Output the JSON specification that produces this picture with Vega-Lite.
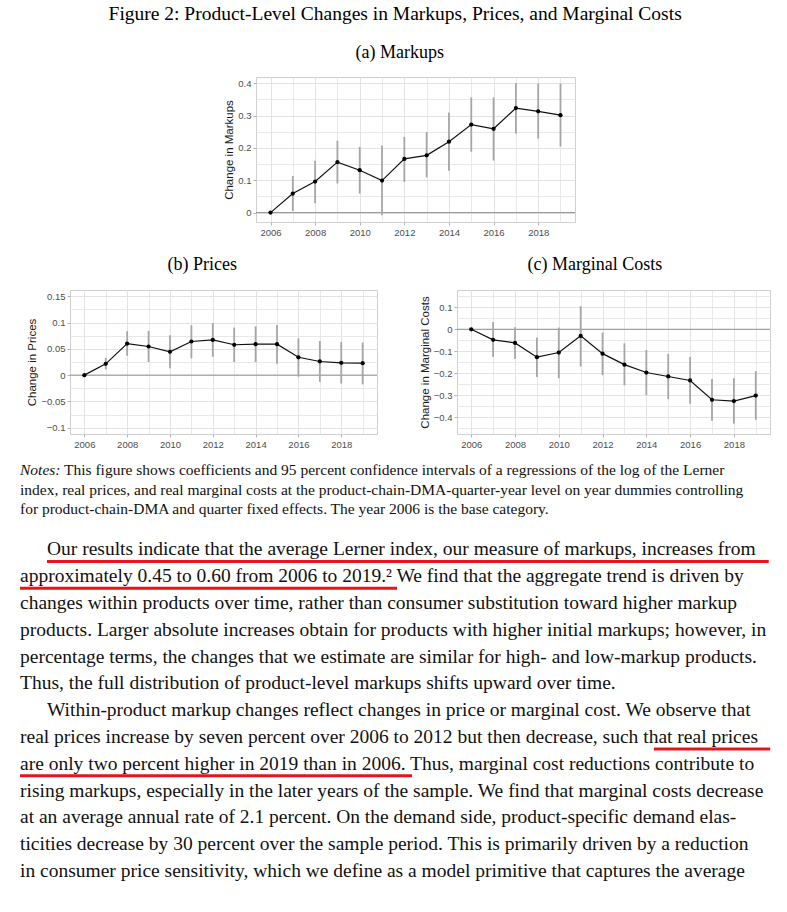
{
  "$schema": "https://vega.github.io/schema/vega-lite/v6.json",
  "background": "white",
  "padding": {"left": 18, "right": 18, "top": 4, "bottom": 0},
  "title": {"text": "Figure 2: Product-Level Changes in Markups, Prices, and Marginal Costs", "offset": 19, "fontSize": 19.5},
  "datasets": {
    "markups": [
      {"year": 2006, "est": 0, "lo": 0, "hi": 0},
      {"year": 2007, "est": 0.059, "lo": 0.005, "hi": 0.113},
      {"year": 2008, "est": 0.096, "lo": 0.029, "hi": 0.16},
      {"year": 2009, "est": 0.156, "lo": 0.09, "hi": 0.222},
      {"year": 2010, "est": 0.131, "lo": 0.059, "hi": 0.203},
      {"year": 2011, "est": 0.099, "lo": -0.008, "hi": 0.207},
      {"year": 2012, "est": 0.166, "lo": 0.095, "hi": 0.234},
      {"year": 2013, "est": 0.177, "lo": 0.109, "hi": 0.249},
      {"year": 2014, "est": 0.219, "lo": 0.129, "hi": 0.309},
      {"year": 2015, "est": 0.272, "lo": 0.188, "hi": 0.356},
      {"year": 2016, "est": 0.259, "lo": 0.161, "hi": 0.356},
      {"year": 2017, "est": 0.323, "lo": 0.244, "hi": 0.4},
      {"year": 2018, "est": 0.313, "lo": 0.229, "hi": 0.399},
      {"year": 2019, "est": 0.301, "lo": 0.204, "hi": 0.399}
    ],
    "prices": [
      {"year": 2006, "est": 0, "lo": 0, "hi": 0},
      {"year": 2007, "est": 0.0215, "lo": 0.011, "hi": 0.033},
      {"year": 2008, "est": 0.06, "lo": 0.037, "hi": 0.0835},
      {"year": 2009, "est": 0.0545, "lo": 0.025, "hi": 0.084},
      {"year": 2010, "est": 0.0445, "lo": 0.013, "hi": 0.076},
      {"year": 2011, "est": 0.064, "lo": 0.032, "hi": 0.095},
      {"year": 2012, "est": 0.067, "lo": 0.035, "hi": 0.099},
      {"year": 2013, "est": 0.0578, "lo": 0.025, "hi": 0.0905},
      {"year": 2014, "est": 0.059, "lo": 0.025, "hi": 0.093},
      {"year": 2015, "est": 0.059, "lo": 0.0215, "hi": 0.0956},
      {"year": 2016, "est": 0.034, "lo": -0.003, "hi": 0.07},
      {"year": 2017, "est": 0.026, "lo": -0.0127, "hi": 0.065},
      {"year": 2018, "est": 0.0234, "lo": -0.016, "hi": 0.063},
      {"year": 2019, "est": 0.0228, "lo": -0.0177, "hi": 0.062}
    ],
    "mc": [
      {"year": 2006, "est": 0, "lo": 0, "hi": 0},
      {"year": 2007, "est": -0.048, "lo": -0.126, "hi": 0.033},
      {"year": 2008, "est": -0.062, "lo": -0.135, "hi": 0.009},
      {"year": 2009, "est": -0.127, "lo": -0.217, "hi": -0.038},
      {"year": 2010, "est": -0.106, "lo": -0.223, "hi": 0.008},
      {"year": 2011, "est": -0.03, "lo": -0.17, "hi": 0.105},
      {"year": 2012, "est": -0.111, "lo": -0.209, "hi": -0.015},
      {"year": 2013, "est": -0.161, "lo": -0.255, "hi": -0.064},
      {"year": 2014, "est": -0.197, "lo": -0.3, "hi": -0.094},
      {"year": 2015, "est": -0.215, "lo": -0.318, "hi": -0.112},
      {"year": 2016, "est": -0.233, "lo": -0.339, "hi": -0.126},
      {"year": 2017, "est": -0.321, "lo": -0.417, "hi": -0.227},
      {"year": 2018, "est": -0.327, "lo": -0.43, "hi": -0.223},
      {"year": 2019, "est": -0.302, "lo": -0.412, "hi": -0.191}
    ],
    "notes": [
      {"row": 1, "lead": "Notes:", "text": "This figure shows coefficients and 95 percent confidence intervals of a regressions of the log of the Lerner"},
      {"row": 2, "text": "index, real prices, and real marginal costs at the product-chain-DMA-quarter-year level on year dummies controlling"},
      {"row": 3, "text": "for product-chain-DMA and quarter fixed effects. The year 2006 is the base category."}
    ],
    "body": [
      {"row": 1, "first": true, "text": "Our results indicate that the average Lerner index, our measure of markups, increases from"},
      {"row": 2, "text": "approximately 0.45 to 0.60 from 2006 to 2019.² We find that the aggregate trend is driven by"},
      {"row": 3, "text": "changes within products over time, rather than consumer substitution toward higher markup"},
      {"row": 4, "text": "products. Larger absolute increases obtain for products with higher initial markups; however, in"},
      {"row": 5, "text": "percentage terms, the changes that we estimate are similar for high- and low-markup products."},
      {"row": 6, "text": "Thus, the full distribution of product-level markups shifts upward over time."},
      {"row": 7, "first": true, "text": "Within-product markup changes reflect changes in price or marginal cost. We observe that"},
      {"row": 8, "text": "real prices increase by seven percent over 2006 to 2012 but then decrease, such that real prices"},
      {"row": 9, "text": "are only two percent higher in 2019 than in 2006. Thus, marginal cost reductions contribute to"},
      {"row": 10, "text": "rising markups, especially in the later years of the sample. We find that marginal costs decrease"},
      {"row": 11, "text": "at an average annual rate of 2.1 percent.  On the demand side, product-specific demand elas-"},
      {"row": 12, "text": "ticities decrease by 30 percent over the sample period. This is primarily driven by a reduction"},
      {"row": 13, "text": "in consumer price sensitivity, which we define as a model primitive that captures the average"}
    ],
    "underlines": [
      {"row": 1, "from": 0.036, "to": 0.997},
      {"row": 2, "from": 0, "to": 0.502},
      {"row": 8, "from": 0.844, "to": 0.999},
      {"row": 9, "from": 0, "to": 0.522}
    ],
    "blank": [{}]
  },
  "spacing": 18,
  "vconcat": [
    {
      "spacing": 0,
      "hconcat": [
        {
          "width": 203, "height": 10, "view": {"stroke": null},
          "data": {"name": "blank"},
          "mark": {"type": "rect", "opacity": 0},
          "encoding": {
            "x": {"datum": 0, "type": "quantitative", "scale": {"domain": [0, 1]}, "axis": null},
            "x2": {"datum": 1},
            "y": {"datum": 0, "type": "quantitative", "scale": {"domain": [0, 1]}, "axis": null},
            "y2": {"datum": 1}
          }
        },
        {
          "width": 319, "height": 145,
          "title": {"text": "(a) Markups", "offset": 15},
          "resolve": {"axis": {"x": "independent", "y": "independent"}},
          "layer": [
            {"data": {"values": [{"z": 0}]}, "mark": {"type": "rule", "color": "#8f8f8f", "strokeWidth": 1},
             "encoding": {"y": {"field": "z", "type": "quantitative", "scale": {"domain": [-0.029, 0.419], "nice": false, "zero": false},
                                "axis": {"orient": "left", "values": [0.05, 0.15, 0.25, 0.35], "labels": false, "ticks": false, "title": null, "grid": true, "gridWidth": 0.8}}}},
            {"data": {"name": "markups"}, "mark": {"type": "rule", "color": "#a6a6a6", "strokeWidth": 1.8},
             "encoding": {
               "x": {"field": "year", "type": "quantitative", "scale": {"domain": [2005.35, 2019.65], "nice": false, "zero": false},
                     "axis": {"orient": "bottom", "values": [2007, 2009, 2011, 2013, 2015, 2017, 2019], "labels": false, "ticks": false, "title": null, "grid": true, "gridWidth": 0.8}},
               "y": {"field": "lo", "type": "quantitative", "scale": {"domain": [-0.029, 0.419], "nice": false, "zero": false}, "axis": null},
               "y2": {"field": "hi"}}},
            {"data": {"name": "markups"}, "mark": {"type": "line", "color": "#111111", "strokeWidth": 1.2},
             "encoding": {
               "x": {"field": "year", "type": "quantitative", "scale": {"domain": [2005.35, 2019.65], "nice": false, "zero": false},
                     "axis": {"orient": "bottom", "title": null, "values": [2006, 2008, 2010, 2012, 2014, 2016, 2018], "format": "d", "grid": true, "gridWidth": 1, "labelFlush": false}},
               "y": {"field": "est", "type": "quantitative", "scale": {"domain": [-0.029, 0.419], "nice": false, "zero": false},
                     "axis": {"orient": "left", "title": "Change in Markups", "values": [0, 0.1, 0.2, 0.3, 0.4], "format": "~g", "grid": true, "gridWidth": 1}}}},
            {"data": {"name": "markups"}, "mark": {"type": "point", "filled": true, "color": "#000000", "opacity": 1, "size": 18},
             "encoding": {
               "x": {"field": "year", "type": "quantitative", "scale": {"domain": [2005.35, 2019.65], "nice": false, "zero": false}, "axis": null},
               "y": {"field": "est", "type": "quantitative", "scale": {"domain": [-0.029, 0.419], "nice": false, "zero": false}, "axis": null}}}
          ]
        }
      ]
    },
    {
      "spacing": 11,
      "vconcat": [
        {
          "spacing": 0,
          "hconcat": [
            {
              "width": 6, "height": 10, "view": {"stroke": null},
              "data": {"name": "blank"},
              "mark": {"type": "rect", "opacity": 0},
              "encoding": {
                "x": {"datum": 0, "type": "quantitative", "scale": {"domain": [0, 1]}, "axis": null},
                "x2": {"datum": 1},
                "y": {"datum": 0, "type": "quantitative", "scale": {"domain": [0, 1]}, "axis": null},
                "y2": {"datum": 1}
              }
            },
            {
              "spacing": 40,
              "hconcat": [
                {
                  "width": 307, "height": 144,
                  "title": {"text": "(b) Prices", "offset": 16},
                  "resolve": {"axis": {"x": "independent", "y": "independent"}},
                  "layer": [
                    {"data": {"values": [{"z": 0}]}, "mark": {"type": "rule", "color": "#8f8f8f", "strokeWidth": 1},
                     "encoding": {"y": {"field": "z", "type": "quantitative", "scale": {"domain": [-0.112, 0.162], "nice": false, "zero": false},
                                        "axis": {"orient": "left", "values": [-0.075, -0.025, 0.025, 0.075, 0.125], "labels": false, "ticks": false, "title": null, "grid": true, "gridWidth": 0.8}}}},
                    {"data": {"name": "prices"}, "mark": {"type": "rule", "color": "#a6a6a6", "strokeWidth": 1.8},
                     "encoding": {
                       "x": {"field": "year", "type": "quantitative", "scale": {"domain": [2005.33, 2019.67], "nice": false, "zero": false},
                             "axis": {"orient": "bottom", "values": [2007, 2009, 2011, 2013, 2015, 2017, 2019], "labels": false, "ticks": false, "title": null, "grid": true, "gridWidth": 0.8}},
                       "y": {"field": "lo", "type": "quantitative", "scale": {"domain": [-0.112, 0.162], "nice": false, "zero": false}, "axis": null},
                       "y2": {"field": "hi"}}},
                    {"data": {"name": "prices"}, "mark": {"type": "line", "color": "#111111", "strokeWidth": 1.2},
                     "encoding": {
                       "x": {"field": "year", "type": "quantitative", "scale": {"domain": [2005.33, 2019.67], "nice": false, "zero": false},
                             "axis": {"orient": "bottom", "title": null, "values": [2006, 2008, 2010, 2012, 2014, 2016, 2018], "format": "d", "grid": true, "gridWidth": 1, "labelFlush": false}},
                       "y": {"field": "est", "type": "quantitative", "scale": {"domain": [-0.112, 0.162], "nice": false, "zero": false},
                             "axis": {"orient": "left", "title": "Change in Prices", "values": [-0.1, -0.05, 0, 0.05, 0.1, 0.15], "format": "~g", "grid": true, "gridWidth": 1}}}},
                    {"data": {"name": "prices"}, "mark": {"type": "point", "filled": true, "color": "#000000", "opacity": 1, "size": 18},
                     "encoding": {
                       "x": {"field": "year", "type": "quantitative", "scale": {"domain": [2005.33, 2019.67], "nice": false, "zero": false}, "axis": null},
                       "y": {"field": "est", "type": "quantitative", "scale": {"domain": [-0.112, 0.162], "nice": false, "zero": false}, "axis": null}}}
                  ]
                },
                {
                  "width": 313, "height": 144,
                  "title": {"text": "(c) Marginal Costs", "offset": 16},
                  "resolve": {"axis": {"x": "independent", "y": "independent"}},
                  "layer": [
                    {"data": {"values": [{"z": 0}]}, "mark": {"type": "rule", "color": "#8f8f8f", "strokeWidth": 1},
                     "encoding": {"y": {"field": "z", "type": "quantitative", "scale": {"domain": [-0.477, 0.179], "nice": false, "zero": false},
                                        "axis": {"orient": "left", "values": [-0.45, -0.35, -0.25, -0.15, -0.05, 0.05, 0.15], "labels": false, "ticks": false, "title": null, "grid": true, "gridWidth": 0.8}}}},
                    {"data": {"name": "mc"}, "mark": {"type": "rule", "color": "#a6a6a6", "strokeWidth": 1.8},
                     "encoding": {
                       "x": {"field": "year", "type": "quantitative", "scale": {"domain": [2005.35, 2019.65], "nice": false, "zero": false},
                             "axis": {"orient": "bottom", "values": [2007, 2009, 2011, 2013, 2015, 2017, 2019], "labels": false, "ticks": false, "title": null, "grid": true, "gridWidth": 0.8}},
                       "y": {"field": "lo", "type": "quantitative", "scale": {"domain": [-0.477, 0.179], "nice": false, "zero": false}, "axis": null},
                       "y2": {"field": "hi"}}},
                    {"data": {"name": "mc"}, "mark": {"type": "line", "color": "#111111", "strokeWidth": 1.2},
                     "encoding": {
                       "x": {"field": "year", "type": "quantitative", "scale": {"domain": [2005.35, 2019.65], "nice": false, "zero": false},
                             "axis": {"orient": "bottom", "title": null, "values": [2006, 2008, 2010, 2012, 2014, 2016, 2018], "format": "d", "grid": true, "gridWidth": 1, "labelFlush": false}},
                       "y": {"field": "est", "type": "quantitative", "scale": {"domain": [-0.477, 0.179], "nice": false, "zero": false},
                             "axis": {"orient": "left", "title": "Change in Marginal Costs", "values": [-0.4, -0.3, -0.2, -0.1, 0, 0.1], "format": "~g", "grid": true, "gridWidth": 1}}}},
                    {"data": {"name": "mc"}, "mark": {"type": "point", "filled": true, "color": "#000000", "opacity": 1, "size": 18},
                     "encoding": {
                       "x": {"field": "year", "type": "quantitative", "scale": {"domain": [2005.35, 2019.65], "nice": false, "zero": false}, "axis": null},
                       "y": {"field": "est", "type": "quantitative", "scale": {"domain": [-0.477, 0.179], "nice": false, "zero": false}, "axis": null}}}
                  ]
                }
              ]
            }
          ]
        },
        {
          "width": 751, "height": 64.6,
          "view": {"stroke": null},
          "data": {"name": "notes"},
          "layer": [
            {"transform": [{"filter": "datum.row == 1"}],
             "mark": {"type": "text", "align": "left", "baseline": "middle", "font": "Liberation Serif", "fontSize": 15.5, "fontStyle": "italic", "color": "#111111"},
             "encoding": {"x": {"datum": 0, "type": "quantitative", "scale": {"domain": [0, 1]}, "axis": null},
                          "y": {"field": "row", "type": "quantitative", "scale": {"domain": [0.487, 3.8], "reverse": true, "nice": false, "zero": false}, "axis": null},
                          "text": {"field": "lead"}}},
            {"transform": [{"filter": "datum.row == 1"}],
             "mark": {"type": "text", "align": "left", "baseline": "middle", "font": "Liberation Serif", "fontSize": 15.5, "color": "#111111", "dx": 44},
             "encoding": {"x": {"datum": 0, "type": "quantitative", "scale": {"domain": [0, 1]}, "axis": null},
                          "y": {"field": "row", "type": "quantitative", "scale": {"domain": [0.487, 3.8], "reverse": true, "nice": false, "zero": false}, "axis": null},
                          "text": {"field": "text"}}},
            {"transform": [{"filter": "datum.row > 1"}],
             "mark": {"type": "text", "align": "left", "baseline": "middle", "font": "Liberation Serif", "fontSize": 15.5, "color": "#111111"},
             "encoding": {"x": {"datum": 0, "type": "quantitative", "scale": {"domain": [0, 1]}, "axis": null},
                          "y": {"field": "row", "type": "quantitative", "scale": {"domain": [0.487, 3.8], "reverse": true, "nice": false, "zero": false}, "axis": null},
                          "text": {"field": "text"}}}
          ]
        },
        {
          "width": 751, "height": 348.4,
          "view": {"stroke": null},
          "layer": [
            {"data": {"name": "body"}, "transform": [{"filter": "!datum.first"}],
             "mark": {"type": "text", "align": "left", "baseline": "middle", "font": "Liberation Serif", "fontSize": 19.5, "color": "#111111"},
             "encoding": {"x": {"datum": 0, "type": "quantitative", "scale": {"domain": [0, 1]}, "axis": null},
                          "y": {"field": "row", "type": "quantitative", "scale": {"domain": [0.5, 13.5], "reverse": true, "nice": false, "zero": false}, "axis": null},
                          "text": {"field": "text"}}},
            {"data": {"name": "body"}, "transform": [{"filter": "datum.first"}],
             "mark": {"type": "text", "align": "left", "baseline": "middle", "font": "Liberation Serif", "fontSize": 19.5, "color": "#111111", "dx": 27},
             "encoding": {"x": {"datum": 0, "type": "quantitative", "scale": {"domain": [0, 1]}, "axis": null},
                          "y": {"field": "row", "type": "quantitative", "scale": {"domain": [0.5, 13.5], "reverse": true, "nice": false, "zero": false}, "axis": null},
                          "text": {"field": "text"}}},
            {"data": {"name": "underlines"},
             "mark": {"type": "rule", "color": "#e8141c", "strokeWidth": 3, "yOffset": 12},
             "encoding": {"x": {"field": "from", "type": "quantitative", "scale": {"domain": [0, 1]}, "axis": null},
                          "x2": {"field": "to"},
                          "y": {"field": "row", "type": "quantitative", "scale": {"domain": [0.5, 13.5], "reverse": true, "nice": false, "zero": false}, "axis": null}}}
          ]
        }
      ]
    }
  ],
  "config": {
    "view": {"stroke": "#d0d0d0", "strokeWidth": 1},
    "title": {"font": "Liberation Serif", "fontSize": 18, "fontWeight": "normal", "color": "#000000", "anchor": "middle", "frame": "bounds"},
    "axis": {"labelFont": "Liberation Sans", "labelFontSize": 9.5, "labelColor": "#4d4d4d", "titleFont": "Liberation Sans", "titleFontSize": 11.5, "titleFontWeight": "normal", "titleColor": "#1a1a1a", "tickColor": "#b3b3b3", "tickSize": 3, "labelPadding": 2, "titlePadding": 3, "domain": false, "gridColor": "#e3e3e3", "labelOverlap": false}
  }
}
